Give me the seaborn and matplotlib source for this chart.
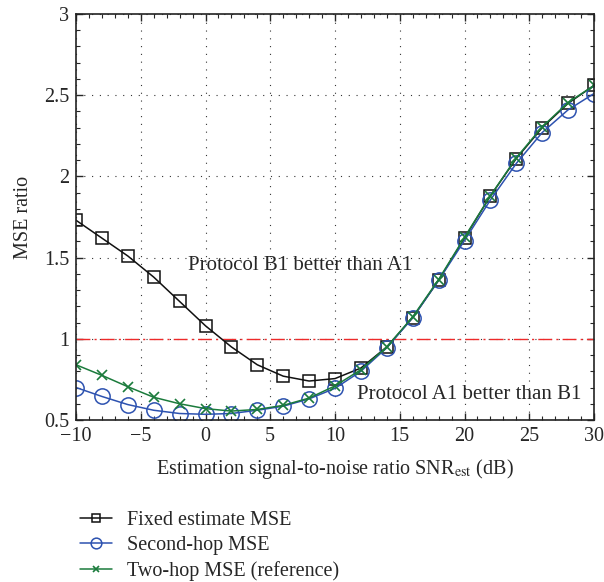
import numpy as np
import pandas as pd
import matplotlib
matplotlib.use("Agg")
import matplotlib.pyplot as plt
import seaborn as sns
from matplotlib.ticker import MultipleLocator

snr = [-10, -8, -6, -4, -2, 0, 2, 4, 6, 8, 10, 12, 14, 16, 18, 20, 22, 24, 26, 28, 30]
fixed_mse = [1.73, 1.62, 1.51, 1.38, 1.23, 1.08, 0.95, 0.84, 0.77, 0.74, 0.755, 0.82, 0.95,
             1.13, 1.36, 1.62, 1.88, 2.11, 2.30, 2.45, 2.56]
second_hop = [0.70, 0.645, 0.595, 0.56, 0.54, 0.535, 0.54, 0.56, 0.585, 0.63, 0.695, 0.80, 0.945,
              1.13, 1.36, 1.605, 1.855, 2.08, 2.27, 2.41, 2.51]
two_hop = [0.84, 0.775, 0.705, 0.64, 0.60, 0.57, 0.555, 0.565, 0.59, 0.635, 0.71, 0.81, 0.95,
           1.135, 1.365, 1.625, 1.88, 2.115, 2.305, 2.455, 2.56]
labels = ["Fixed estimate MSE", "Second-hop MSE", "Two-hop MSE (reference)"]

sns.set_style("ticks")
plt.rcParams['font.family'] = ['Liberation Serif', 'DejaVu Serif']
plt.rcParams['mathtext.fontset'] = 'stix'

fig = plt.figure(figsize=(6.04, 5.82), dpi=100)
ax = fig.add_axes([76/604, 1-420/582, 518/604, 406/582])

ax.axhline(1.0, color='#ee2a2a', lw=1.0, ls=(0, (10, 3, 1.5, 3)), zorder=1)

df = pd.DataFrame({"snr": snr * 3,
                   "val": fixed_mse + second_hop + two_hop,
                   "series": [labels[0]] * len(snr) + [labels[1]] * len(snr) + [labels[2]] * len(snr)})

colors = ['#111111', '#2d52b0', '#1b7b3c']
styles = [dict(marker='s', ms=9, mfc='none', mew=1.1),
          dict(marker='o', ms=11, mfc='none', mew=1.1),
          dict(marker='x', ms=7, mew=1.2)]
for lab, c, st in zip(labels, colors, styles):
    sub = df[df.series == lab]
    sns.lineplot(data=sub, x="snr", y="val", ax=ax, color=c, lw=1.1, label=lab,
                 mec=c, **st)

ax.set_xlim(-10, 30)
ax.set_ylim(0.5, 3)
ax.xaxis.set_minor_locator(MultipleLocator(1))
ax.yaxis.set_minor_locator(MultipleLocator(0.1))
ax.set_xticks(np.arange(-10, 31, 5))
ax.set_xticklabels(['\u221210', '\u22125', '0', '5', '10', '15', '20', '25', '30'])
ax.set_yticks([0.5, 1, 1.5, 2, 2.5, 3])
ax.set_yticklabels(['0.5', '1', '1.5', '2', '2.5', '3'])
ax.tick_params(which='both', direction='in', top=True, right=True, labelsize=14.5, pad=5)
ax.tick_params(which='major', length=5, width=1)
ax.tick_params(which='minor', length=3, width=0.8)
for s in ax.spines.values():
    s.set_linewidth(1.2)
    s.set_color('#222222')
ax.grid(True, which='major', color='#333333', ls=(0, (1, 6)), lw=0.8)

ax.set_xlabel(r"Estimation signal-to-noise ratio SNR$_{\rm est}$ (dB)", fontsize=14.5, labelpad=8)
ax.set_ylabel("MSE ratio", fontsize=14.5, labelpad=8)

ax.text(7.3, 1.454, "Protocol B1 better than A1", fontsize=15, ha='center', va='center')
ax.text(20.4, 0.66, "Protocol A1 better than B1", fontsize=15, ha='center', va='center')

h, l = ax.get_legend_handles_labels()
ax.get_legend().remove()
fig.legend(h, l, loc='upper left', bbox_to_anchor=(72/604, 1-503/582), frameon=False,
           fontsize=14.5, handlelength=1.6, labelspacing=0.3, handletextpad=0.75,
           borderaxespad=0, markerscale=0.7)

fig.savefig("out.png", dpi=100)
